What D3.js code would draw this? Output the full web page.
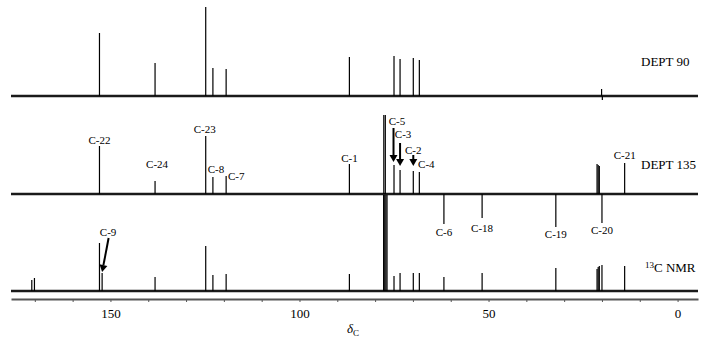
<!DOCTYPE html>
<html>
<head>
<meta charset="utf-8">
<script src="https://cdn.jsdelivr.net/npm/d3@7"></script>
<style>
  body { margin: 0; background: #fff; }
  svg text { font-family: "Liberation Serif", "DejaVu Serif", serif; fill: #000; }
</style>
</head>
<body>
<svg id="chart" width="711" height="341"></svg>
<script>
// peak positions (ppm) and heights
var dept90Shift  = [152.9, 138.2, 124.8, 122.9, 119.4, 86.8, 75.0, 73.4, 69.9, 68.3, 20.1, 19.9];
var dept90Height = [63, 33, 89, 28, 27, 39, 40, 37, 38, 36, 7, -4];

var dept135Shift  = [152.9, 138.2, 124.8, 122.9, 119.4, 86.8, 77.7, 77.3, 75.0, 73.4, 69.9, 68.3,
                     61.8, 51.7, 32.2, 21.3, 21.0, 20.7, 20.0, 14.0];
var dept135Height = [48, 13, 58, 17, 18, 30, 79, 79, 29, 24, 23, 22,
                     -30, -24, -33, 30, 29, 28, -29, 31];

var c13Shift  = [170.8, 170.1, 152.9, 152.2, 138.2, 124.8, 122.9, 119.4, 86.8, 77.75, 77.45, 77.15, 76.85,
                 75.0, 73.4, 69.9, 68.3, 61.8, 51.7, 32.2, 21.3, 21.0, 20.7, 20.0, 14.0];
var c13Height = [11, 13, 48, 18, 14, 45, 16, 17, 17, 96, 96, 96, 96,
                 15, 18, 18, 18, 14, 18, 23, 22, 24, 25, 26, 25];

var axisTicks  = [170, 160, 150, 140, 130, 120, 110, 100, 90, 80, 70, 60, 50, 40, 30, 20, 10, 0];
var axisLabels = [150, 100, 50, 0];

var labelText  = ["C-22", "C-24", "C-23", "C-8", "C-7", "C-1", "C-5", "C-3", "C-2", "C-4",
                  "C-6", "C-18", "C-19", "C-20", "C-21", "C-9"];
var labelShift = [152.9, 138.2, 124.8, 122.9, 119.4, 86.8, 75.0, 73.4, 69.9, 68.3,
                  61.8, 51.7, 32.2, 20.0, 14.0, 152.2];

// layout
var svg = d3.select("#chart");
var x = d3.scaleLinear().domain([176.3, -5.4]).range([11, 698]);

var traces = [
  { name: "DEPT 90",  shift: dept90Shift,  height: dept90Height,  base: 96,  tx: 641, ty: 66 },
  { name: "DEPT 135", shift: dept135Shift, height: dept135Height, base: 194, tx: 641, ty: 169 },
  { name: "NMR",      shift: c13Shift,     height: c13Height,     base: 291, tx: 645, ty: 272 }
];

traces.forEach(function(t) {
  var y = d3.scaleLinear().domain([0, 100]).range([t.base, t.base - 100]);
  var g = svg.append("g");

  // baseline (noisy band in the original)
  g.append("line")
    .attr("x1", x.range()[0]).attr("x2", x.range()[1])
    .attr("y1", y(0)).attr("y2", y(0))
    .attr("stroke", "#1a1a1a").attr("stroke-width", 2.6);

  g.selectAll("line.peak")
    .data(t.shift)
    .enter()
    .append("line")
    .attr("class", "peak")
    .attr("x1", function(d) { return x(d); })
    .attr("x2", function(d) { return x(d); })
    .attr("y1", y(0))
    .attr("y2", function(d, i) { return y(t.height[i]); })
    .attr("stroke", "#000")
    .attr("stroke-width", 1.2);

  var label = g.append("text")
    .attr("x", t.tx).attr("y", t.ty)
    .style("font-size", "13px");
  if (t.name === "NMR") {
    label.append("tspan").attr("dy", "-4").style("font-size", "9px").text("13");
    label.append("tspan").attr("dy", "4").text("C NMR");
  } else {
    label.text(t.name);
  }
});

// carbon labels
var labelPos = [
  [0, 144], [2, 168], [-1, 133], [3, 173], [10, 180], [0, 162], [3, 125], [3, 138], [0, 154], [7, 168],
  [0, 236], [0, 232], [0, 238], [0, 234], [0, 159], [6, 236]
];
svg.append("g").selectAll("text")
  .data(labelText)
  .enter()
  .append("text")
  .attr("x", function(d, i) { return x(labelShift[i]) + labelPos[i][0]; })
  .attr("y", function(d, i) { return labelPos[i][1]; })
  .attr("text-anchor", "middle")
  .style("font-size", "11px")
  .text(function(d) { return d; });

// arrows
function arrow(x1, y1, x2, y2) {
  var dx = x2 - x1, dy = y2 - y1;
  var len = Math.sqrt(dx * dx + dy * dy);
  var ux = dx / len, uy = dy / len;
  var head = 7, half = 4;
  var bx = x2 - ux * head, by = y2 - uy * head;
  svg.append("line")
    .attr("x1", x1).attr("y1", y1).attr("x2", bx).attr("y2", by)
    .attr("stroke", "#000").attr("stroke-width", 2);
  svg.append("path")
    .attr("d", "M" + x2 + "," + y2 +
               "L" + (bx - uy * half) + "," + (by + ux * half) +
               "L" + (bx + uy * half) + "," + (by - ux * half) + "Z")
    .attr("fill", "#000");
}
arrow(x(75.0) - 0.5, 128, x(75.0) - 0.5, 162);
arrow(x(73.4), 143, x(73.4), 166);
arrow(x(69.9), 155, x(69.9), 166);
arrow(x(152.2) + 6.5, 238, x(152.2), 272);

// axis
var axis = d3.axisBottom(x)
  .tickValues(axisTicks)
  .tickSizeInner(3)
  .tickSizeOuter(0)
  .tickPadding(7)
  .tickFormat(function(d) { return axisLabels.indexOf(d) >= 0 ? d : ""; });

var ax = svg.append("g")
  .attr("transform", "translate(0,299)")
  .call(axis);
ax.select(".domain").attr("stroke", "#555").attr("stroke-width", 2);
ax.selectAll(".tick line").attr("stroke", "#555");
ax.selectAll(".tick text")
  .style("font-family", "'Liberation Serif', serif")
  .style("font-size", "13px")
  .attr("fill", "#000");

var xl = svg.append("text")
  .attr("x", 347).attr("y", 333)
  .style("font-size", "13px");
xl.append("tspan").style("font-style", "italic").text("δ");
xl.append("tspan").attr("dy", "3").style("font-size", "9px").text("C");
</script>
</body>
</html>
